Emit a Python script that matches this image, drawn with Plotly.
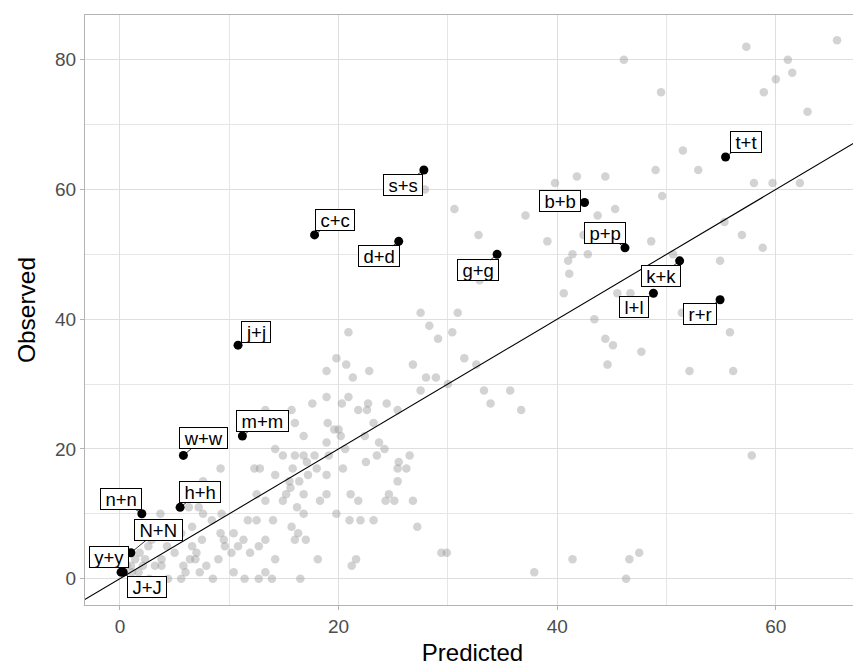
import plotly.graph_objects as go

# ---- background (unlabelled) observations ----
gray_x = [
    # lower-left cluster
    7.6, 9.3, 3.7, 11.7, 12.5, 14.0, 8.4, 6.6, 9.2, 10.4, 11.3, 13.3, 12.7, 11.9, 9.5, 9.6, 7.5, 6.6, 7.0, 5.6,
    4.3, 2.9, 2.6, 1.8, 1.4, 2.3, 3.8, 5.0, 5.8, 6.4, 6.9, 6.0, 3.8, 3.2, 2.1, 1.7, 1.1, 2.7, 4.4, 5.6,
    7.3, 7.9, 8.5, 10.4, 11.4, 12.7, 13.3, 13.9, 10.2, 10.8, 9.0, 14.2, 0.6, 1.0,
    14.2, 14.9, 9.2, 12.3, 12.8, 14.2, 12.5, 14.9, 13.3, 7.6, 6.3, 7.2, 13.3,
    16.0, 16.8, 17.8, 19.1, 17.1, 15.8, 18.0, 15.5, 16.4, 17.2, 18.9, 15.2, 16.8, 18.9, 16.2, 18.3, 15.6,
    20.6, 24.2, 23.5, 26.5, 20.4, 22.5, 25.5, 25.4, 26.2, 25.4, 21.1, 24.6, 21.8, 24.3, 25.1, 26.8, 19.8, 16.8,
    21.0, 22.0, 23.2, 27.2, 15.7, 16.3, 16.0, 17.0, 18.1, 21.6, 21.2, 29.4, 29.9, 16.5,
    # middle band
    27.5, 30.9, 28.3, 20.9, 30.4, 29.1, 19.8, 20.7, 18.9, 22.8, 26.8, 31.5, 32.6, 21.3, 28.0, 28.9, 30.0, 27.5,
    33.3, 18.9, 20.9, 17.6, 20.3, 22.7, 24.4, 15.7, 21.8, 22.6, 25.4, 16.0, 19.0, 23.2, 19.6, 20.0, 16.8, 20.2,
    18.9, 22.4, 23.7,
    41.1, 40.6, 45.5, 46.7, 43.4, 51.4, 44.4, 45.1, 47.7, 44.6, 52.1, 35.7, 33.9, 36.7,
    55.8, 56.1, 57.8,
    37.9, 41.4, 46.6, 47.5, 46.3,
    27.9, 30.6, 32.8, 32.9,
    51.5, 52.9, 49.0, 39.8, 41.8, 44.4, 49.6, 37.1, 43.7, 45.3, 42.4, 39.1, 48.6, 41.4, 42.8, 41.0, 50.6,
    65.6, 57.3, 61.1, 60.0, 61.5, 58.9, 62.9, 58.0, 59.7, 62.2, 55.3, 56.9, 58.8, 54.9,
    46.1, 49.5,
]
gray_y = [
    10, 10, 10, 9, 9, 9, 9, 8, 7, 7, 6, 6, 5, 4, 6, 5, 6, 5, 4, 7,
    5, 6, 5, 4, 3, 3, 3, 4, 2, 3, 3, 1, 2, 2, 2, 1, 1, 0, 0, 0,
    1, 2, 0, 1, 0, 0, 1, 0, 4, 5, 3, 3, 2, 2,
    20, 19, 17, 17, 17, 16, 13, 12, 12, 15, 11, 11, 26,
    19, 19, 19, 19, 18, 17, 17, 15, 15, 16, 16, 13, 13, 13, 11, 12, 14,
    20, 20, 19, 19, 17, 18, 18, 17, 17, 15, 13, 13, 12, 12, 12, 12, 10, 10,
    9, 9, 9, 8, 8, 7, 6, 6, 3, 3, 2, 4, 4, 0,
    41, 41, 39, 38, 38, 37, 34, 33, 32, 32, 33, 34, 33, 31, 31, 31, 30, 29,
    29, 28, 28, 27, 27, 27, 27, 26, 26, 26, 26, 24, 24, 24, 23, 23, 22, 22,
    21, 22, 21,
    47, 44, 44, 44, 40, 41, 37, 36, 35, 33, 32, 29, 27, 26,
    38, 32, 19,
    1, 3, 3, 4, 0,
    60, 57, 53, 46,
    66, 63, 63, 61, 62, 62, 59, 56, 56, 57, 53, 52, 52, 50, 50, 49, 50,
    83, 82, 80, 77, 78, 75, 72, 61, 61, 61, 55, 53, 51, 49,
    80, 75,
]

# ---- labelled observations ----
lab_names = ["t+t", "s+s", "b+b", "c+c", "d+d", "p+p", "g+g", "k+k", "l+l",
             "r+r", "j+j", "m+m", "w+w", "h+h", "n+n", "N+N", "y+y", "J+J"]
lab_x = [55.4, 27.8, 42.5, 17.8, 25.5, 46.2, 34.5, 51.2, 48.8,
         54.9, 10.8, 11.2, 5.8, 5.5, 2.0, 1.0, 0.3, 0.1]
lab_y = [65, 63, 58, 53, 52, 51, 50, 49, 44,
         43, 36, 22, 19, 11, 10, 4, 1, 1]

# reference line y = intercept + slope * x
line_intercept = 0.0
line_slope = 1.0
x_range = [-3.2, 67.7]
y_range = [-4.06, 86.9]

# label placement (pixel offsets from the point, like ggrepel)
label_offsets = {
    "t+t": (20, -15), "s+s": (-21, 15), "b+b": (-25, -1), "c+c": (20, -15),
    "d+d": (-20, 15), "p+p": (-20, -15), "g+g": (-19, 16), "k+k": (-19, 15),
    "l+l": (-19, 14), "r+r": (-20, 14), "j+j": (18, -13), "m+m": (20, -15),
    "w+w": (20, -17), "h+h": (20, -15), "n+n": (-21, -15), "N+N": (28, -23),
    "y+y": (-14, -15), "J+J": (26, 15),
}

FONT = "Liberation Sans, Arial, Helvetica, sans-serif"
LABEL_SIZE = 18.5
# approximate Arial/Liberation Sans advance widths (em) for box sizing
CHAR_W = {"a": .556, "b": .556, "c": .5, "d": .556, "g": .556, "h": .556, "j": .222,
          "k": .5, "l": .222, "m": .833, "n": .556, "p": .556, "r": .333, "s": .5,
          "t": .278, "w": .722, "y": .5, "N": .722, "J": .5, "+": .584}


def box_width(s):
    return sum(CHAR_W.get(ch, .556) for ch in s) * LABEL_SIZE + 9


fig = go.Figure()
fig.add_trace(go.Scatter(
    x=gray_x, y=gray_y, mode="markers",
    marker=dict(size=8.5, color="rgba(150,150,150,0.42)", line=dict(width=0)),
    hoverinfo="skip", showlegend=False))

lx = [x_range[0] - 5, x_range[1] + 5]
ly = [line_intercept + line_slope * v for v in lx]
fig.add_trace(go.Scatter(x=lx, y=ly, mode="lines",
                         line=dict(color="black", width=1.1),
                         hoverinfo="skip", showlegend=False))

fig.add_trace(go.Scatter(
    x=lab_x, y=lab_y, mode="markers",
    marker=dict(size=9, color="black", line=dict(width=0)),
    hoverinfo="skip", showlegend=False))

for name, xv, yv in zip(lab_names, lab_x, lab_y):
    ax, ay = label_offsets[name]
    fig.add_annotation(
        x=xv, y=yv, text=name,
        showarrow=True, arrowhead=0, arrowwidth=0.8, arrowcolor="black",
        standoff=0, startstandoff=0,
        ax=ax, ay=ay,
        width=box_width(name), height=20, align="center", valign="middle",
        font=dict(family=FONT, size=LABEL_SIZE, color="black"),
        bgcolor="white", bordercolor="black", borderwidth=1, borderpad=0,
    )

axis_common = dict(
    showline=True, mirror=True, linecolor="#b3b3b3", linewidth=1,
    gridcolor="#dedede", gridwidth=1.1,
    ticks="outside", ticklen=4, tickcolor="#b3b3b3", tickwidth=1,
    tickfont=dict(family=FONT, size=19, color="#4d4d4d"),
    zeroline=False, automargin=False,
)

fig.update_xaxes(
    range=x_range, tickvals=[0, 20, 40, 60],
    minor=dict(tickvals=[10, 30, 50], showgrid=True, gridcolor="#e6e6e6", gridwidth=0.7, ticks=""),
    title=dict(text="Predicted", font=dict(family=FONT, size=24, color="black"), standoff=8),
    **axis_common)
fig.update_yaxes(
    range=y_range, tickvals=[0, 20, 40, 60, 80],
    minor=dict(tickvals=[10, 30, 50, 70], showgrid=True, gridcolor="#e6e6e6", gridwidth=0.7, ticks=""),
    title=dict(text="Observed", font=dict(family=FONT, size=24.5, color="black"), standoff=12),
    **axis_common)

# page body has an 8px default margin, so the figure margins compensate
fig.update_layout(
    width=861, height=667,
    margin=dict(l=77, r=9, t=7, b=70),
    paper_bgcolor="white", plot_bgcolor="white",
    font=dict(family=FONT),
    showlegend=False,
)

fig.write_html("out.html")
